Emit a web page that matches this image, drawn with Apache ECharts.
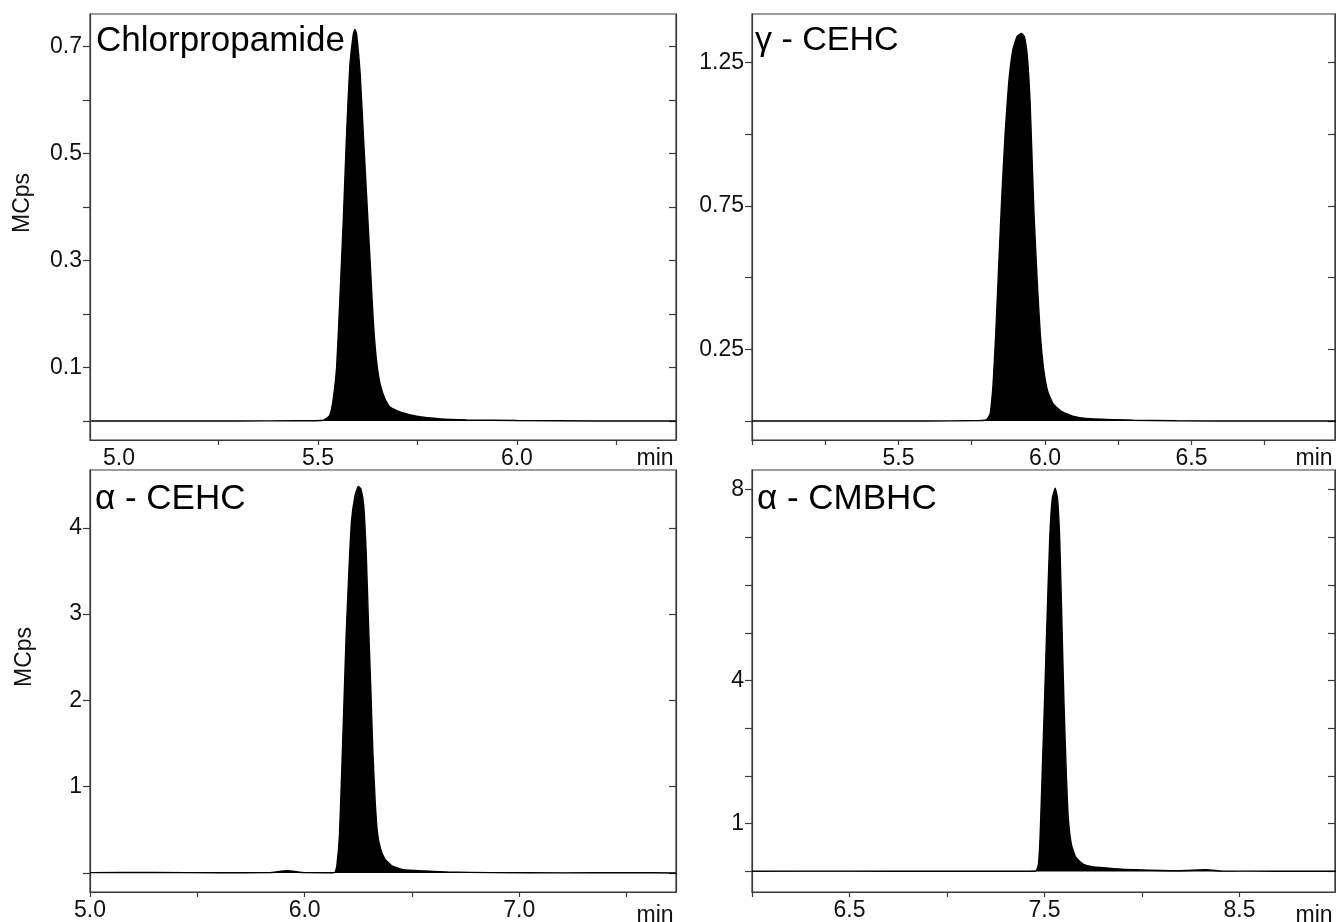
<!DOCTYPE html>
<html>
<head>
<meta charset="utf-8">
<script src="https://cdn.jsdelivr.net/npm/echarts@6/dist/echarts.min.js"></script>
<style>
  html, body { margin: 0; padding: 0; background: #fff; }
  #chart { width: 1336px; height: 922px; }
</style>
</head>
<body>
<div id="chart"></div>
<script>
// ---------- Data ----------
// Panel 1: Chlorpropamide (time in min, signal in MCps)
const chlorTime = [4.93, 5.1, 5.3, 5.45, 5.51, 5.518, 5.530, 5.538, 5.547, 5.555, 5.564, 5.572, 5.580, 5.589, 5.593, 5.597, 5.606, 5.614, 5.622, 5.631, 5.639, 5.647, 5.656, 5.668, 5.681, 5.706, 5.748, 5.807, 5.874, 6.0, 6.2, 6.4];
const chlorSignal = [0.0, 0.0, 0.0, 0.0005, 0.001, 0.003, 0.011, 0.039, 0.101, 0.226, 0.381, 0.537, 0.662, 0.724, 0.732, 0.724, 0.65, 0.537, 0.425, 0.30, 0.188, 0.114, 0.07, 0.042, 0.026, 0.017, 0.009, 0.004, 0.002, 0.001, 0.0, 0.0];

// Panel 2: gamma-CEHC
const gCehcTime = [5.0, 5.3, 5.6, 5.78, 5.801, 5.813, 5.823, 5.832, 5.842, 5.852, 5.864, 5.876, 5.890, 5.905, 5.920, 5.930, 5.940, 5.949, 5.955, 5.963, 5.974, 5.984, 5.996, 6.010, 6.028, 6.054, 6.098, 6.156, 6.303, 6.449, 6.7, 7.0];
const gCehcSignal = [0.0, 0.0, 0.0, 0.002, 0.005, 0.026, 0.13, 0.304, 0.537, 0.769, 1.001, 1.175, 1.291, 1.340, 1.350, 1.338, 1.268, 1.117, 0.943, 0.711, 0.479, 0.304, 0.177, 0.101, 0.060, 0.035, 0.016, 0.008, 0.003, 0.001, 0.0, 0.0];

// Panel 3: alpha-CEHC
const aCehcTime = [5.0, 5.3, 5.6, 5.834, 5.917, 6.0, 6.1, 6.141, 6.150, 6.162, 6.173, 6.183, 6.193, 6.206, 6.218, 6.235, 6.250, 6.262, 6.275, 6.287, 6.297, 6.308, 6.318, 6.329, 6.339, 6.354, 6.374, 6.406, 6.458, 6.562, 6.666, 6.874, 7.2, 7.5, 7.73];
const aCehcSignal = [0.004, 0.006, 0.003, 0.004, 0.027, 0.004, 0.003, 0.008, 0.084, 0.43, 1.195, 1.96, 2.73, 3.49, 4.07, 4.375, 4.48, 4.45, 4.26, 3.69, 2.92, 2.15, 1.39, 0.81, 0.467, 0.276, 0.161, 0.084, 0.038, 0.023, 0.011, 0.004, 0.002, 0.004, 0.0];

// Panel 4: alpha-CMBHC
const aCmbhcTime = [6.0, 6.5, 7.0, 7.3, 7.456, 7.469, 7.478, 7.489, 7.5, 7.513, 7.527, 7.540, 7.555, 7.567, 7.578, 7.589, 7.600, 7.611, 7.622, 7.638, 7.66, 7.70, 7.744, 7.855, 7.966, 8.188, 8.33, 8.41, 8.7, 9.0];
const aCmbhcSignal = [0.004, 0.008, 0.004, 0.004, 0.01, 0.15, 0.77, 2.15, 3.53, 5.26, 6.98, 7.81, 8.03, 7.81, 6.98, 5.26, 3.53, 2.15, 1.12, 0.57, 0.30, 0.15, 0.10, 0.06, 0.035, 0.015, 0.035, 0.01, 0.005, 0.004];

// Titles
const panelTitles = ['Chlorpropamide', 'γ - CEHC', 'α - CEHC', 'α - CMBHC'];

// Axis ranges, ticks and labels
const xRanges = [[4.927, 6.40], [5.0, 6.99], [5.0, 7.73], [6.0, 8.99]];
const xTicks = [
  [5.25, 5.5, 5.75, 6.0, 6.25],
  [5.0, 5.25, 5.5, 5.75, 6.0, 6.25, 6.5, 6.75],
  [5.0, 5.5, 6.0, 6.5, 7.0, 7.5],
  [6.0, 6.5, 7.0, 7.5, 8.0, 8.5]
];
const xLabels = [[5.0, 5.5, 6.0], [5.5, 6.0, 6.5], [5.0, 6.0, 7.0], [6.5, 7.5, 8.5]];

const yRanges = [[-0.0355, 0.761], [-0.066, 1.418], [-0.22, 4.67], [-0.43, 8.41]];
const yTicks = [
  [0, 0.1, 0.2, 0.3, 0.4, 0.5, 0.6, 0.7],
  [0, 0.25, 0.5, 0.75, 1.0, 1.25],
  [0, 1, 2, 3, 4],
  [0, 1, 2, 3, 4, 5, 6, 7, 8]
];
const yLabels = [[0.1, 0.3, 0.5, 0.7], [0.25, 0.75, 1.25], [1, 2, 3, 4], [1, 4, 8]];
const yDecimals = [1, 2, 0, 0];
const yAxisName = 'MCps';
const xUnit = 'min';

// ---------- Chart ----------
const FONT = '"Liberation Sans", Arial, sans-serif';
const frame = '#3a3a3a';
const grids = [
  { left: 90, top: 14, width: 586, height: 426 },
  { left: 752, top: 14, width: 583, height: 426 },
  { left: 90, top: 470, width: 586, height: 427 },
  { left: 752, top: 470, width: 583, height: 427 }
];
const seriesData = [
  [chlorTime, chlorSignal],
  [gCehcTime, gCehcSignal],
  [aCehcTime, aCehcSignal],
  [aCmbhcTime, aCmbhcSignal]
];

const xAxes = [], yAxes = [], series = [], graphics = [];
grids.forEach((g, i) => {
  g.show = true; g.borderColor = frame; g.borderWidth = 1.2; g.backgroundColor = 'transparent';
  xAxes.push({
    gridIndex: i, type: 'value', min: xRanges[i][0], max: xRanges[i][1],
    axisLine: { show: true, onZero: false, lineStyle: { color: frame, width: 1.2 } },
    axisTick: { show: true, inside: false, length: 5, customValues: xTicks[i], lineStyle: { color: frame, width: 1.2 } },
    axisLabel: { show: true, customValues: xLabels[i], fontSize: 23, fontFamily: FONT, color: '#111', margin: 7,
      formatter: v => Number(v).toFixed(1) },
    splitLine: { show: false }
  });
  yAxes.push({
    gridIndex: i, type: 'value', position: 'left', min: yRanges[i][0], max: yRanges[i][1],
    axisLine: { show: true, onZero: false, lineStyle: { color: frame, width: 1.2 } },
    axisTick: { show: true, inside: false, length: 7, customValues: yTicks[i], lineStyle: { color: frame, width: 1.2 } },
    axisLabel: { show: true, customValues: yLabels[i], fontSize: 23, fontFamily: FONT, color: '#111', margin: 8,
      formatter: (v => Number(v).toFixed(yDecimals[i])) },
    splitLine: { show: false }
  });
  yAxes.push({
    gridIndex: i, type: 'value', position: 'right', min: yRanges[i][0], max: yRanges[i][1],
    axisLine: { show: true, onZero: false, lineStyle: { color: frame, width: 1.2 } },
    axisTick: { show: true, inside: true, length: 7, customValues: yTicks[i], lineStyle: { color: frame, width: 1.2 } },
    axisLabel: { show: false },
    splitLine: { show: false }
  });
  const [tArr, vArr] = seriesData[i];
  series.push({
    type: 'line', xAxisIndex: i, yAxisIndex: i * 2,
    data: tArr.map((t, k) => [t, vArr[k]]),
    showSymbol: false, smooth: 0.15, clip: true,
    lineStyle: { color: '#000', width: 1.4 },
    areaStyle: { color: '#000', opacity: 1, origin: 0 },
    silent: true, animation: false
  });
  // unit label "min" at the right end of each x axis
  graphics.push({
    type: 'text', x: g.left + g.width - 21, y: g.top + g.height + 19,
    style: { text: xUnit, font: '23px ' + FONT, fill: '#111', align: 'center', verticalAlign: 'middle' }
  });
});

const titlePos = [[96, 41], [755, 41], [95, 499], [757, 499]];
const titleSize = [35, 34, 35, 35];
panelTitles.forEach((t, i) => {
  graphics.push({
    type: 'text', x: titlePos[i][0], y: titlePos[i][1],
    style: { text: t, font: titleSize[i] + 'px ' + FONT, fill: '#000', align: 'left', verticalAlign: 'middle' }
  });
});
[[23, 203], [25, 657]].forEach(p => {
  graphics.push({
    type: 'text', x: p[0], y: p[1], rotation: Math.PI / 2,
    style: { text: yAxisName, font: '23px ' + FONT, fill: '#111', align: 'center', verticalAlign: 'middle' }
  });
});

const chart = echarts.init(document.getElementById('chart'), null, { renderer: 'canvas' });
chart.setOption({
  animation: false,
  backgroundColor: '#fff',
  grid: grids,
  xAxis: xAxes,
  yAxis: yAxes,
  series: series,
  graphic: graphics
});
</script>
</body>
</html>
